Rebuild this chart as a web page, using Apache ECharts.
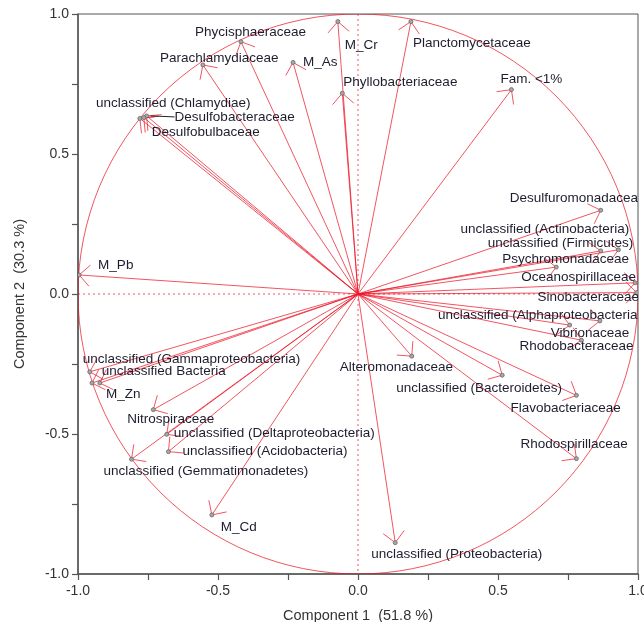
<!DOCTYPE html>
<html><head><meta charset="utf-8">
<script src="https://cdn.jsdelivr.net/npm/echarts@6.0.0/dist/echarts.min.js"></script>
<style>html,body{margin:0;padding:0;background:#fff}#c{width:644px;height:622px}</style>
</head><body><div id="c"></div>
<script>
// ---- data (loadings on component 1 / component 2) ----
const names = [
  'Phycisphaeraceae','Parachlamydiaceae','M_As','unclassified (Chlamydiae)','Desulfobacteraceae',
  'Desulfobulbaceae','M_Cr','Planctomycetaceae','Phyllobacteriaceae','Fam. <1%',
  'Desulfuromonadaceae','unclassified (Actinobacteria)','unclassified (Firmicutes)','Psychromonadaceae','Oceanospirillaceae',
  'Sinobacteraceae','unclassified (Alphaproteobacteria)','Vibrionaceae','Rhodobacteraceae','Alteromonadaceae',
  'unclassified (Bacteroidetes)','Flavobacteriaceae','Rhodospirillaceae','unclassified (Proteobacteria)','Nitrospiraceae',
  'unclassified (Deltaproteobacteria)','unclassified (Acidobacteria)','unclassified (Gemmatimonadetes)','M_Cd','M_Pb',
  'unclassified (Gammaproteobacteria)','unclassified Bacteria','M_Zn'
];
const comp1 = [
  -0.418,-0.554,-0.232,-0.779,-0.755,
  -0.765,-0.072,0.189,-0.056,0.548,
  0.867,0.930,0.867,0.708,0.990,
  0.995,0.864,0.756,0.798,0.192,
  0.515,0.780,0.780,0.133,-0.731,
  -0.683,-0.677,-0.809,-0.522,-0.996,
  -0.958,-0.922,-0.950
];
const comp2 = [
  0.901,0.818,0.827,0.627,0.636,
  0.630,0.973,0.973,0.717,0.730,
  0.299,0.158,0.154,0.096,0.040,
  0.005,-0.096,-0.111,-0.165,-0.222,
  -0.290,-0.362,-0.588,-0.888,-0.413,
  -0.501,-0.563,-0.590,-0.789,0.068,
  -0.278,-0.318,-0.318
];
const tickLabels = ['-1.0','-0.5','0.0','0.5','1.0'];
const xTitle = 'Component 1  (51.8 %)';
const yTitle = 'Component 2  (30.3 %)';

// ---- label layout (pixel offsets of text from its point) ----
const labelOffset = [
  [-46,-9],[-43,-7],[10,0],[-44,-15],[28,1],
  [8,15],[7,24],[2,22],[1,-11],[-11,-10],
  [-91,-12],[-158,-20],[-113,-8],[-54,-8],[-114,-6],
  [-99,5],[-162,-6],[-19,8],[-62,6],[-72,11],
  [-106,13],[-66,13],[-56,-14],[-24,12],[-26,10],
  [7,-1],[14,0],[-28,12],[9,12],[19,-10],
  [-7,-13],[2,-12],[14,11]
];
const leaderIdx = [4];

const RED = 'rgba(236,20,36,0.72)';
const FONT = '13.5px "Liberation Sans", Arial, sans-serif';

const data = comp1.map((v, i) => [v, comp2[i]]);

function tickFmt(v) {
  const k = (v + 1) / 0.5;
  if (Math.abs(k - Math.round(k)) < 1e-6) return tickLabels[Math.round(k)];
  return '';
}

function renderFrame(params, api) {
  const c = api.coord([0, 0]);
  const r = api.size([1, 1])[0];
  const l = api.coord([-1, 0]), rr = api.coord([1, 0]);
  const t = api.coord([0, 1]), b = api.coord([0, -1]);
  return { type: 'group', children: [
    { type: 'circle', shape: { cx: c[0], cy: c[1], r: r }, style: { fill: null, stroke: RED, lineWidth: 1 } },
    { type: 'line', shape: { x1: l[0], y1: l[1], x2: rr[0], y2: rr[1] }, style: { stroke: RED, lineWidth: 1, lineDash: [2, 3] } },
    { type: 'line', shape: { x1: t[0], y1: t[1], x2: b[0], y2: b[1] }, style: { stroke: RED, lineWidth: 1, lineDash: [2, 3] } }
  ]};
}

function renderArrow(params, api) {
  const o = api.coord([0, 0]);
  const p = api.coord([api.value(0), api.value(1)]);
  const ang = Math.atan2(o[1] - p[1], o[0] - p[0]);
  const L = 15, h = Math.PI / 4;
  const a1 = [p[0] + L * Math.cos(ang + h), p[1] + L * Math.sin(ang + h)];
  const a2 = [p[0] + L * Math.cos(ang - h), p[1] + L * Math.sin(ang - h)];
  return { type: 'group', children: [
    { type: 'line', shape: { x1: o[0], y1: o[1], x2: p[0], y2: p[1] }, style: { stroke: RED, lineWidth: 1 } },
    { type: 'polyline', shape: { points: [a1, p, a2] }, style: { stroke: RED, fill: null, lineWidth: 1 } }
  ]};
}

function renderLabel(params, api) {
  const i = params.dataIndex;
  const p = api.coord([api.value(0), api.value(1)]);
  const off = labelOffset[i];
  const children = [
    { type: 'circle', shape: { cx: p[0], cy: p[1], r: 2 }, style: { fill: '#a8a8a8', stroke: '#666', lineWidth: 0.8 } },
    { type: 'text', x: p[0] + off[0], y: p[1] + off[1],
      style: { text: names[i], fill: '#1d1d2e', font: FONT, align: 'left', verticalAlign: 'middle' } }
  ];
  if (leaderIdx.indexOf(i) >= 0) {
    children.push({ type: 'line', shape: { x1: p[0] + 4, y1: p[1], x2: p[0] + off[0], y2: p[1] + off[1] },
      style: { stroke: '#222', lineWidth: 1 } });
  }
  return { type: 'group', children };
}

const axisCommon = {
  type: 'value', min: -1, max: 1, interval: 0.25,
  axisLine: { show: true, onZero: false, lineStyle: { color: '#555', width: 1.5 } },
  axisTick: { show: true, inside: false, length: 6, lineStyle: { color: '#555', width: 1.2 } },
  axisLabel: { formatter: tickFmt, color: '#333', fontSize: 14, fontFamily: '"Liberation Sans", Arial, sans-serif', margin: 9 },
  splitLine: { show: false },
  nameLocation: 'middle',
  nameTextStyle: { color: '#333', fontSize: 14.5, fontFamily: '"Liberation Sans", Arial, sans-serif' }
};

const chart = echarts.init(document.getElementById('c'), null, { renderer: 'canvas' });
chart.setOption({
  animation: false,
  backgroundColor: '#fff',
  grid: { left: 78, right: 6, top: 14, bottom: 48, containLabel: false, outerBoundsMode: 'none',
          show: true, borderColor: '#555', borderWidth: 1 },
  xAxis: Object.assign({}, axisCommon, { name: xTitle, nameGap: 34, axisLabel: Object.assign({}, axisCommon.axisLabel, { margin: 10 }) }),
  yAxis: Object.assign({}, axisCommon, { name: yTitle, nameGap: 51 }),
  series: [
    { type: 'custom', renderItem: renderFrame, data: [[0, 0]], clip: true, silent: true, z: 1 },
    { type: 'custom', renderItem: renderArrow, data: data, clip: true, silent: true, z: 2 },
    { type: 'custom', renderItem: renderLabel, data: data, clip: true, silent: true, z: 3 }
  ]
});
</script></body></html>
